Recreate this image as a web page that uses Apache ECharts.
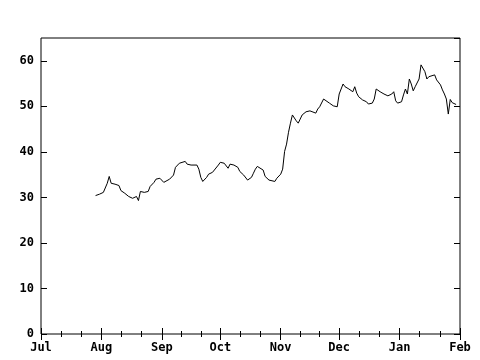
<!DOCTYPE html>
<html><head><meta charset="utf-8">
<script src="https://cdn.jsdelivr.net/npm/echarts@6/dist/echarts.min.js"></script>
<style>html,body{margin:0;padding:0;background:#fff}#c{width:480px;height:360px}</style>
</head><body><div id="c"></div>
<script>
const dates = ["2006-07-29","2006-07-31","2006-08-02","2006-08-04","2006-08-05","2006-08-06","2006-08-08","2006-08-10","2006-08-11","2006-08-13","2006-08-15","2006-08-17","2006-08-18","2006-08-19","2006-08-20","2006-08-21","2006-08-22","2006-08-23","2006-08-25","2006-08-26","2006-08-28","2006-08-29","2006-08-30","2006-08-31","2006-09-02","2006-09-03","2006-09-05","2006-09-07","2006-09-08","2006-09-10","2006-09-13","2006-09-14","2006-09-16","2006-09-19","2006-09-20","2006-09-21","2006-09-22","2006-09-24","2006-09-25","2006-09-27","2006-09-28","2006-09-30","2006-10-01","2006-10-03","2006-10-04","2006-10-05","2006-10-06","2006-10-08","2006-10-10","2006-10-11","2006-10-13","2006-10-15","2006-10-16","2006-10-17","2006-10-18","2006-10-19","2006-10-20","2006-10-21","2006-10-23","2006-10-24","2006-10-26","2006-10-27","2006-10-29","2006-10-30","2006-11-01","2006-11-02","2006-11-03","2006-11-04","2006-11-05","2006-11-06","2006-11-07","2006-11-09","2006-11-10","2006-11-11","2006-11-12","2006-11-14","2006-11-16","2006-11-17","2006-11-19","2006-11-20","2006-11-21","2006-11-23","2006-11-24","2006-11-26","2006-11-28","2006-11-30","2006-12-01","2006-12-02","2006-12-03","2006-12-04","2006-12-06","2006-12-08","2006-12-09","2006-12-10","2006-12-11","2006-12-13","2006-12-15","2006-12-16","2006-12-18","2006-12-19","2006-12-20","2006-12-22","2006-12-24","2006-12-26","2006-12-28","2006-12-29","2006-12-30","2006-12-31","2007-01-02","2007-01-03","2007-01-04","2007-01-05","2007-01-06","2007-01-07","2007-01-08","2007-01-09","2007-01-10","2007-01-11","2007-01-12","2007-01-13","2007-01-14","2007-01-15","2007-01-16","2007-01-17","2007-01-19","2007-01-20","2007-01-22","2007-01-23","2007-01-24","2007-01-25","2007-01-26","2007-01-27","2007-01-28","2007-01-29","2007-01-30"];
const values = [30.4,30.7,31.1,33.1,34.6,33.1,32.9,32.6,31.5,30.9,30.2,29.8,29.6,30.2,29.3,31.3,30.9,31.1,31.3,32.4,33.3,34.0,33.8,34.2,33.3,33.5,34.0,34.9,36.6,37.5,37.9,37.3,37.1,37.1,36.2,34.4,33.5,34.4,35.1,35.5,35.7,37.1,37.7,37.5,37.1,36.4,37.3,37.1,36.6,35.7,34.9,33.8,34.2,34.4,35.3,36.2,36.8,36.6,36.0,34.6,33.8,34.0,33.5,34.2,35.1,36.2,40.1,41.7,44.3,46.3,48.1,46.8,46.3,47.2,48.1,48.8,49.0,49.2,48.5,49.4,49.9,51.6,51.2,50.7,50.1,49.9,52.7,52.3,54.9,54.3,53.8,53.2,54.3,52.9,52.1,51.4,51.0,50.5,50.7,51.6,53.8,53.2,52.7,52.3,52.7,53.2,51.2,50.7,51.0,52.5,53.8,52.7,56.0,54.9,53.4,54.3,54.7,56.0,59.1,59.3,57.6,56.0,56.5,56.7,56.9,55.8,54.7,53.6,52.7,51.6,48.3,51.5,50.8,51.0,50.4];
const monthNames = ["Jan","Feb","Mar","Apr","May","Jun","Jul","Aug","Sep","Oct","Nov","Dec"];
const xMin = "2006-07-01", xMax = "2007-02-01";
const yMin = 0, yMax = 65, yStep = 10;

const font = {fontFamily: "DejaVu Sans Mono", fontWeight: "bold", fontSize: 12, color: "#000"};
const DAY = 86400000;
const xBase = {
  type: "time", min: xMin, max: xMax,
  minInterval: 28 * DAY, maxInterval: 31 * DAY,
  axisLine: {show: false},
  axisTick: {show: true, inside: true, length: 6, lineStyle: {color: "#000"}},
  minorTick: {show: true, splitNumber: 3, length: 3, lineStyle: {color: "#000"}},
  splitLine: {show: false},
  minorSplitLine: {show: false}
};
const yBase = {
  type: "value", min: yMin, max: yMax, interval: yStep,
  axisLine: {show: false},
  axisTick: {show: true, inside: true, length: 6, lineStyle: {color: "#000"}},
  splitLine: {show: false}
};
const chart = echarts.init(document.getElementById("c"), null, {renderer: "canvas"});
chart.setOption({
  backgroundColor: "#fff",
  animation: false,
  grid: {left: 41, right: 20, top: 38, bottom: 26, show: true, borderColor: "#000", borderWidth: 1, backgroundColor: "transparent"},
  xAxis: [
    Object.assign({}, xBase, {position: "bottom",
      axisLabel: Object.assign({}, font, {margin: 8, hideOverlap: false, showMinLabel: true, showMaxLabel: true,
        formatter: v => monthNames[new Date(v).getMonth()]})}),
    Object.assign({}, xBase, {position: "top", axisLabel: {show: false}})
  ],
  yAxis: [
    Object.assign({}, yBase, {position: "left",
      axisLabel: Object.assign({}, font, {margin: 7, showMaxLabel: false,
        formatter: v => (v % yStep === 0 && v <= 60) ? String(v) : ""})}),
    Object.assign({}, yBase, {position: "right", axisLabel: {show: false}})
  ],
  series: [{
    type: "line", xAxisIndex: 0, yAxisIndex: 0,
    data: dates.map((d, i) => [d, values[i]]),
    showSymbol: false, symbol: "none",
    lineStyle: {color: "#000", width: 1},
    itemStyle: {color: "#000"}
  }]
});
</script></body></html>
